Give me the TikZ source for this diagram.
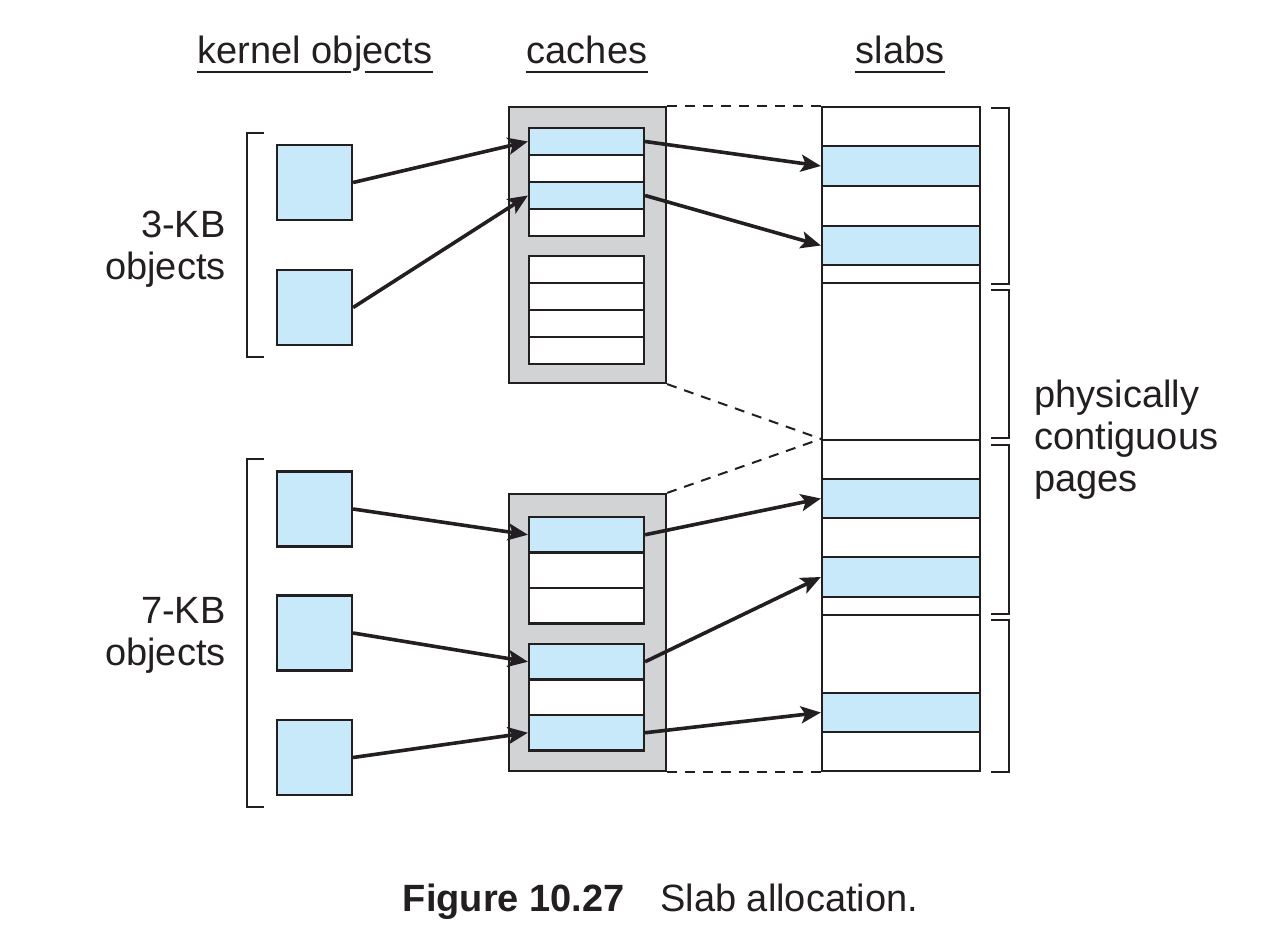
\documentclass[tikz,border=0pt]{standalone}
\usepackage{fontspec}
\setmainfont{Liberation Sans}
\usetikzlibrary{arrows.meta,calc}

\definecolor{objblue}{RGB}{199,233,249}
\definecolor{cachegray}{RGB}{209,211,212}
\definecolor{linec}{RGB}{35,31,32}

\begin{document}
\begin{tikzpicture}[x=0.5pt, y=-0.5pt,
    every node/.style={font=\fontsize{19}{21}\selectfont, text=linec},
    obj/.style={draw=linec, line width=1.1pt, fill=objblue, minimum size=37.5pt, inner sep=0},
    cache/.style={draw=linec, line width=1.1pt, fill=cachegray, minimum width=78.5pt, inner sep=0},
    slot/.style={draw=linec, line width=1.1pt, minimum width=57.5pt, inner sep=0},
    row/.style={draw=linec, line width=1.1pt, minimum width=79pt, inner sep=0},
    ptr/.style={draw=linec, line width=1.8pt, -{Stealth[length=10pt, width=8.5pt, inset=2.2pt]}},
    guide/.style={draw=linec, line width=1pt, dash pattern=on 5pt off 4pt},
    brk/.style={draw=linec, line width=1pt},
    head/.style={inner sep=0, anchor=base}]

   \useasboundingbox (0,0) rectangle (1270,930);

   % column headings
   \node[head] (kh) at (315,64) {kernel objects};
   \node[head] (ch) at (587,64) {caches};
   \node[head] (sh) at (900,64) {slabs};
   \draw[brk] ([yshift=-4pt]kh.base west) -- ($([yshift=-4pt]kh.base west)!0.655!([yshift=-4pt]kh.base east)$);
   \draw[brk] ($([yshift=-4pt]kh.base west)!0.712!([yshift=-4pt]kh.base east)$) -- ([yshift=-4pt]kh.base east);
   \draw[brk] ([yshift=-4pt]ch.base west) -- ([yshift=-4pt]ch.base east);
   \draw[brk] ([yshift=-4pt]sh.base west) -- ([yshift=-4pt]sh.base east);

   % kernel objects
    \foreach \y/\id in {182.5/o1, 307.5/o2, 509/o3, 633/o4, 757.5/o5}
        \node[obj] (\id) at (314.5,\y) {};

   \foreach \ya/\yb in {133/357, 459/807}
        \draw[brk] (264,\ya) -- (247,\ya) -- (247,\yb) -- (264,\yb);

   \node[anchor=east, align=right, inner sep=0] (k3) at (226,249) {3-KB\\objects};
   \node[anchor=east, align=right, inner sep=0] (k7) at (226,635) {7-KB\\objects};

   % caches
   \node[cache, minimum height=138pt] (tc) at (587.5,245) {};
   \node[cache, minimum height=138.5pt] (bc) at (587.5,632.5) {};

    \foreach \y/\col/\id in {128/objblue/t1, 155/white/t2, 182/objblue/t3, 209/white/t4, 256/white/t5, 283/white/t6, 310/white/t7, 337/white/t8}
        \node[slot, fill=\col, minimum height=13.5pt] (\id) at (586.5,\y+13.5) {};

    \foreach \y/\col/\id in {517/objblue/b1, 552.5/white/b2, 588/white/b3, 644/objblue/b4, 679.5/white/b5, 715/objblue/b6}
        \node[slot, fill=\col, minimum height=17.75pt] (\id) at (586.5,\y+17.75) {};

   % slabs
    \foreach \ya/\yb/\col/\id in {107/146/white/s1, 146/186/objblue/s2, 186/226/white/s3, 226/265/objblue/s4, 265/283/white/s5, 283/440/white/s6, 440/479/white/s7, 479/518/objblue/s8, 518/557/white/s9, 557/597/objblue/s10, 597/615/white/s11, 615/693/white/s12, 693/732/objblue/s13, 732/771/white/s14}
        \node[row, fill=\col, minimum height={(\yb-\ya)*0.5pt}] (\id) at (901,{(\ya+\yb)/2}) {};

    \foreach \ya/\yb in {108/284, 290/438, 445/614, 620/772}
        \draw[brk] (991,\ya) -- (1009,\ya) -- (1009,\yb) -- (991,\yb);

   \node[anchor=west, align=left, inner sep=0] (pc) at (1034,440) {physically\\contiguous\\pages};

   % dashed guides from caches to slabs
   \draw[guide] (tc.north east) -- (s1.north west);
   \draw[guide] (tc.south east) -- (s7.north west);
   \draw[guide] (bc.north east) -- (s7.north west);
   \draw[guide] (bc.south east) -- (s14.south west);

   % pointers
   \draw[ptr] (o1.east) -- (t1.west);
   \draw[ptr] (o2.east) -- (t3.west);
   \draw[ptr] (t1.east) -- (s2.west);
   \draw[ptr] (t3.east) -- (s4.west);
   \draw[ptr] (o3.east) -- (b1.west);
   \draw[ptr] (o4.east) -- (b4.west);
   \draw[ptr] (o5.east) -- (b6.west);
   \draw[ptr] (b1.east) -- (s8.west);
   \draw[ptr] (b4.east) -- (s10.west);
   \draw[ptr] (b6.east) -- (s13.west);

   % caption
   \node[inner sep=0, anchor=base east, font=\fontsize{19}{21}\selectfont\bfseries] (fg) at (625,911) {Figure 10.27};
   \node[inner sep=0, anchor=base west] (ct) at (660,911) {Slab allocation.};

\end{tikzpicture}
\end{document}
